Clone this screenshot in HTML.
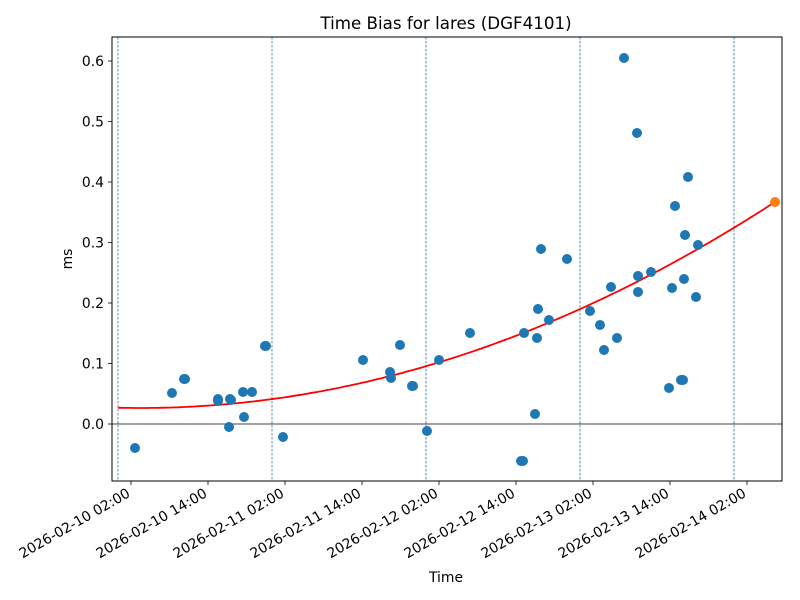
<!DOCTYPE html>
<html><head><meta charset="utf-8"><style>body{margin:0;background:#fff}svg{display:block;font-family:"DejaVu Sans","Liberation Sans",sans-serif}</style></head>
<body>
<svg width="800" height="600" viewBox="0 0 800 600" xmlns="http://www.w3.org/2000/svg">
<rect width="800" height="600" fill="#fff"/>
<text x="446" y="29" font-size="16.7" text-anchor="middle">Time Bias for lares (DGF4101)</text>
<g stroke="#1f77b4" stroke-width="0.8" stroke-dasharray="2.5,1.5">
<line x1="118" y1="37" x2="118" y2="481"/><line x1="272" y1="37" x2="272" y2="481"/><line x1="426" y1="37" x2="426" y2="481"/><line x1="580" y1="37" x2="580" y2="481"/><line x1="734" y1="37" x2="734" y2="481"/>
</g>
<line x1="112" y1="424" x2="782" y2="424" stroke="#000" stroke-width="0.8"/>
<path id="c" fill="none" stroke="red" stroke-width="1.8" d=""/>
<g fill="#1f77b4">
<circle cx="135" cy="448" r="5"/><circle cx="172" cy="393" r="5"/><circle cx="184" cy="379" r="5"/><circle cx="185" cy="379" r="5"/><circle cx="218" cy="399" r="5"/><circle cx="218" cy="401" r="5"/><circle cx="230" cy="399" r="5"/><circle cx="231" cy="400" r="5"/><circle cx="229" cy="427" r="5"/><circle cx="243" cy="392" r="5"/><circle cx="244" cy="417" r="5"/><circle cx="252" cy="392" r="5"/><circle cx="265" cy="346" r="5"/><circle cx="266" cy="346" r="5"/><circle cx="283" cy="437" r="5"/><circle cx="363" cy="360" r="5"/><circle cx="390" cy="372" r="5"/><circle cx="391" cy="378" r="5"/><circle cx="400" cy="345" r="5"/><circle cx="412" cy="386" r="5"/><circle cx="413" cy="386" r="5"/><circle cx="427" cy="431" r="5"/><circle cx="439" cy="360" r="5"/><circle cx="470" cy="333" r="5"/><circle cx="521" cy="461" r="5"/><circle cx="523" cy="461" r="5"/><circle cx="524" cy="333" r="5"/><circle cx="535" cy="414" r="5"/><circle cx="537" cy="338" r="5"/><circle cx="538" cy="309" r="5"/><circle cx="541" cy="249" r="5"/><circle cx="549" cy="320" r="5"/><circle cx="567" cy="259" r="5"/><circle cx="590" cy="311" r="5"/><circle cx="600" cy="325" r="5"/><circle cx="604" cy="350" r="5"/><circle cx="611" cy="287" r="5"/><circle cx="617" cy="338" r="5"/><circle cx="624" cy="58" r="5"/><circle cx="637" cy="133" r="5"/><circle cx="638" cy="276" r="5"/><circle cx="638" cy="292" r="5"/><circle cx="651" cy="272" r="5"/><circle cx="669" cy="388" r="5"/><circle cx="672" cy="288" r="5"/><circle cx="675" cy="206" r="5"/><circle cx="681" cy="380" r="5"/><circle cx="683" cy="380" r="5"/><circle cx="684" cy="279" r="5"/><circle cx="685" cy="235" r="5"/><circle cx="688" cy="177" r="5"/><circle cx="696" cy="297" r="5"/><circle cx="698" cy="245" r="5"/>
</g>
<circle cx="775" cy="202" r="5" fill="#ff7f0e"/>
<rect x="112" y="37" width="670" height="444" fill="none" stroke="#000" stroke-width="1"/>
<g stroke="#000" stroke-width="0.8">
<line x1="112" y1="61" x2="108" y2="61"/><line x1="112" y1="121.5" x2="108" y2="121.5"/><line x1="112" y1="182" x2="108" y2="182"/><line x1="112" y1="242.5" x2="108" y2="242.5"/><line x1="112" y1="303" x2="108" y2="303"/><line x1="112" y1="363.5" x2="108" y2="363.5"/><line x1="112" y1="424" x2="108" y2="424"/>
<line x1="131" y1="481" x2="131" y2="485"/><line x1="208" y1="481" x2="208" y2="485"/><line x1="285" y1="481" x2="285" y2="485"/><line x1="362" y1="481" x2="362" y2="485"/><line x1="439" y1="481" x2="439" y2="485"/><line x1="516" y1="481" x2="516" y2="485"/><line x1="593" y1="481" x2="593" y2="485"/><line x1="670" y1="481" x2="670" y2="485"/><line x1="747" y1="481" x2="747" y2="485"/>
</g>
<g font-size="13.9" text-anchor="end">
<text x="104" y="66">0.6</text><text x="104" y="126.5">0.5</text><text x="104" y="187">0.4</text><text x="104" y="247.5">0.3</text><text x="104" y="308">0.2</text><text x="104" y="368.5">0.1</text><text x="104" y="429">0.0</text>
</g>
<g font-size="13.9" text-anchor="end">
<text transform="translate(131,496) rotate(-30)">2026-02-10 02:00</text>
<text transform="translate(208,496) rotate(-30)">2026-02-10 14:00</text>
<text transform="translate(285,496) rotate(-30)">2026-02-11 02:00</text>
<text transform="translate(362,496) rotate(-30)">2026-02-11 14:00</text>
<text transform="translate(439,496) rotate(-30)">2026-02-12 02:00</text>
<text transform="translate(516,496) rotate(-30)">2026-02-12 14:00</text>
<text transform="translate(593,496) rotate(-30)">2026-02-13 02:00</text>
<text transform="translate(670,496) rotate(-30)">2026-02-13 14:00</text>
<text transform="translate(747,496) rotate(-30)">2026-02-14 02:00</text>
</g>
<text x="446" y="582" font-size="13.9" text-anchor="middle">Time</text>
<text transform="translate(72,259) rotate(-90)" font-size="13.9" text-anchor="middle">ms</text>
<script>
var d="";for(var x=118;x<=775;x+=3){var y=408-0.000511*(x-140)*(x-140);d+=(x==118?"M":"L")+x+","+y.toFixed(1);}
d+="L775,"+(408-0.000511*635*635).toFixed(1);
document.getElementById("c").setAttribute("d",d);
</script>
</svg>
</body></html>
